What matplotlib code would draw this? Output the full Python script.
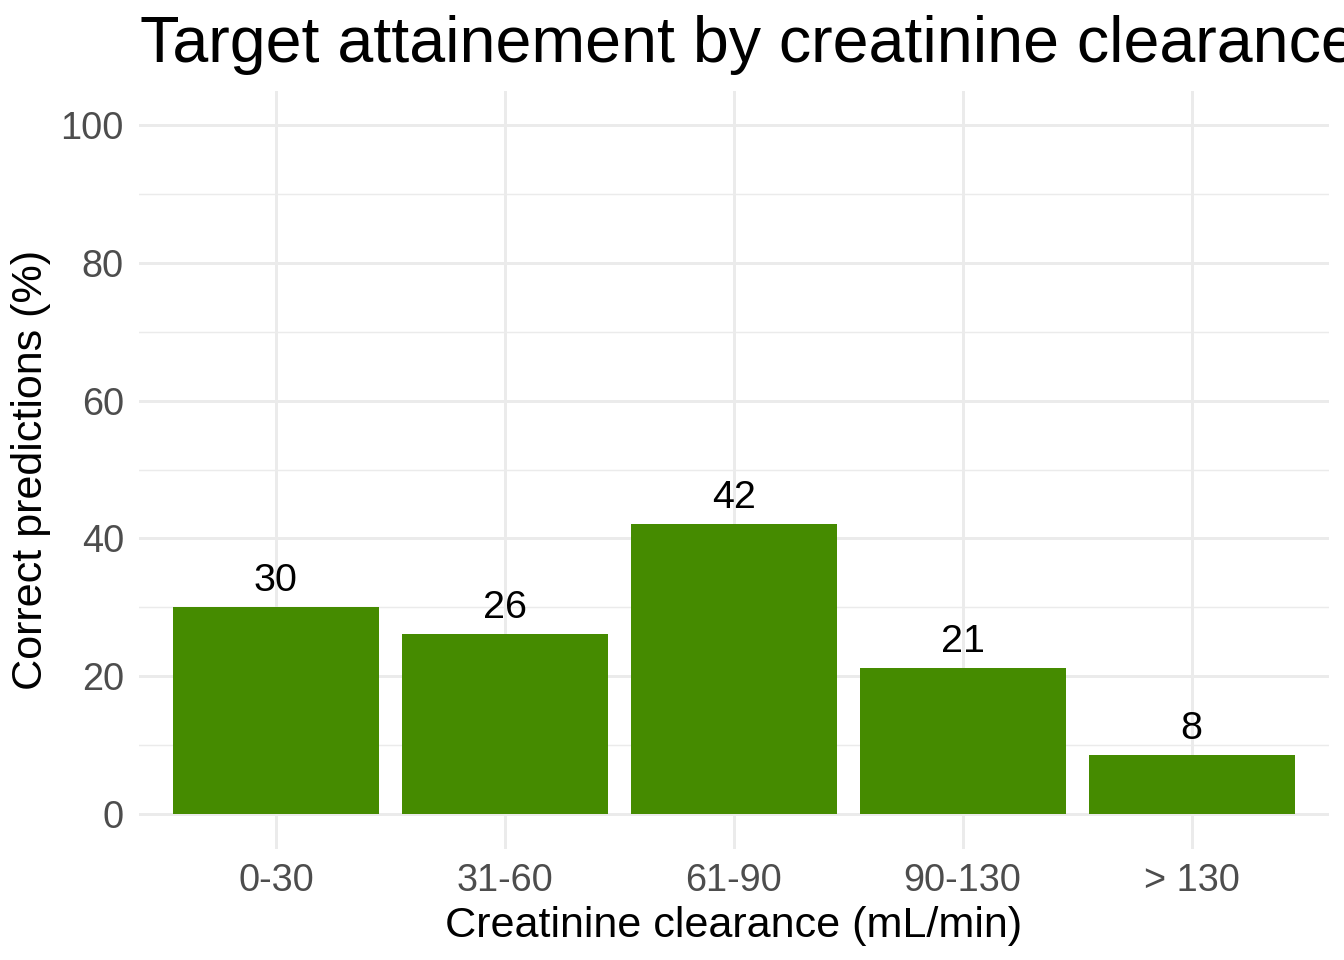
import matplotlib
matplotlib.use("Agg")
import matplotlib.pyplot as plt
from matplotlib.ticker import MultipleLocator

plt.rcParams["font.family"] = ["Liberation Sans", "DejaVu Sans"]

# ── Data ──────────────────────────────────────────────────────────────────────
categories = ["0-30", "31-60", "61-90", "90-130", "> 130"]
values     = [30.1, 26.2, 42.1, 21.2, 8.6]
labels     = ["30", "26", "42", "21", "8"]

BAR_COLOR  = "#458B00"
GRID_COLOR = "#EBEBEB"
TICK_COLOR = "#4D4D4D"

fig = plt.figure(figsize=(7, 5), dpi=192, facecolor="white")
ax = fig.add_axes([0.1031, 0.1161, 0.9888 - 0.1031, 0.9057 - 0.1161])

x = list(range(len(categories)))
ax.bar(x, values, width=0.9, color=BAR_COLOR, zorder=2)
for xi, v, lab in zip(x, values, labels):
    ax.annotate(lab, (xi, v), xytext=(0, 3), textcoords="offset points",
                ha="center", va="bottom", fontsize=14.8, color="black", zorder=3)

ax.set_xlim(-0.6, len(categories) - 0.4)
ax.set_ylim(-5, 105)
ax.set_xticks(x)
ax.set_xticklabels(categories)
ax.yaxis.set_minor_locator(MultipleLocator(10))
ax.set_yticks([0, 20, 40, 60, 80, 100])

ax.grid(True, which="major", color=GRID_COLOR, linewidth=1.1, zorder=0)
ax.grid(True, which="minor", axis="y", color=GRID_COLOR, linewidth=0.55, zorder=0)
ax.set_axisbelow(True)
for s in ax.spines.values():
    s.set_visible(False)
ax.tick_params(which="both", length=0)
ax.tick_params(axis="y", pad=5.5, labelsize=14.2, labelcolor=TICK_COLOR)
ax.tick_params(axis="x", pad=5.4, labelsize=14.2, labelcolor=TICK_COLOR)

ax.set_xlabel("Creatinine clearance (mL/min)", fontsize=16.2, labelpad=2.5)
ax.set_ylabel("Correct predictions (%)", fontsize=16.2, labelpad=3.5)

fig.text(140 / 1344, 1 - 62 / 960, "Target attainement by creatinine clearance",
         fontsize=24.2, ha="left", va="baseline", color="black")

fig.savefig("out.png", dpi=192, facecolor="white")
